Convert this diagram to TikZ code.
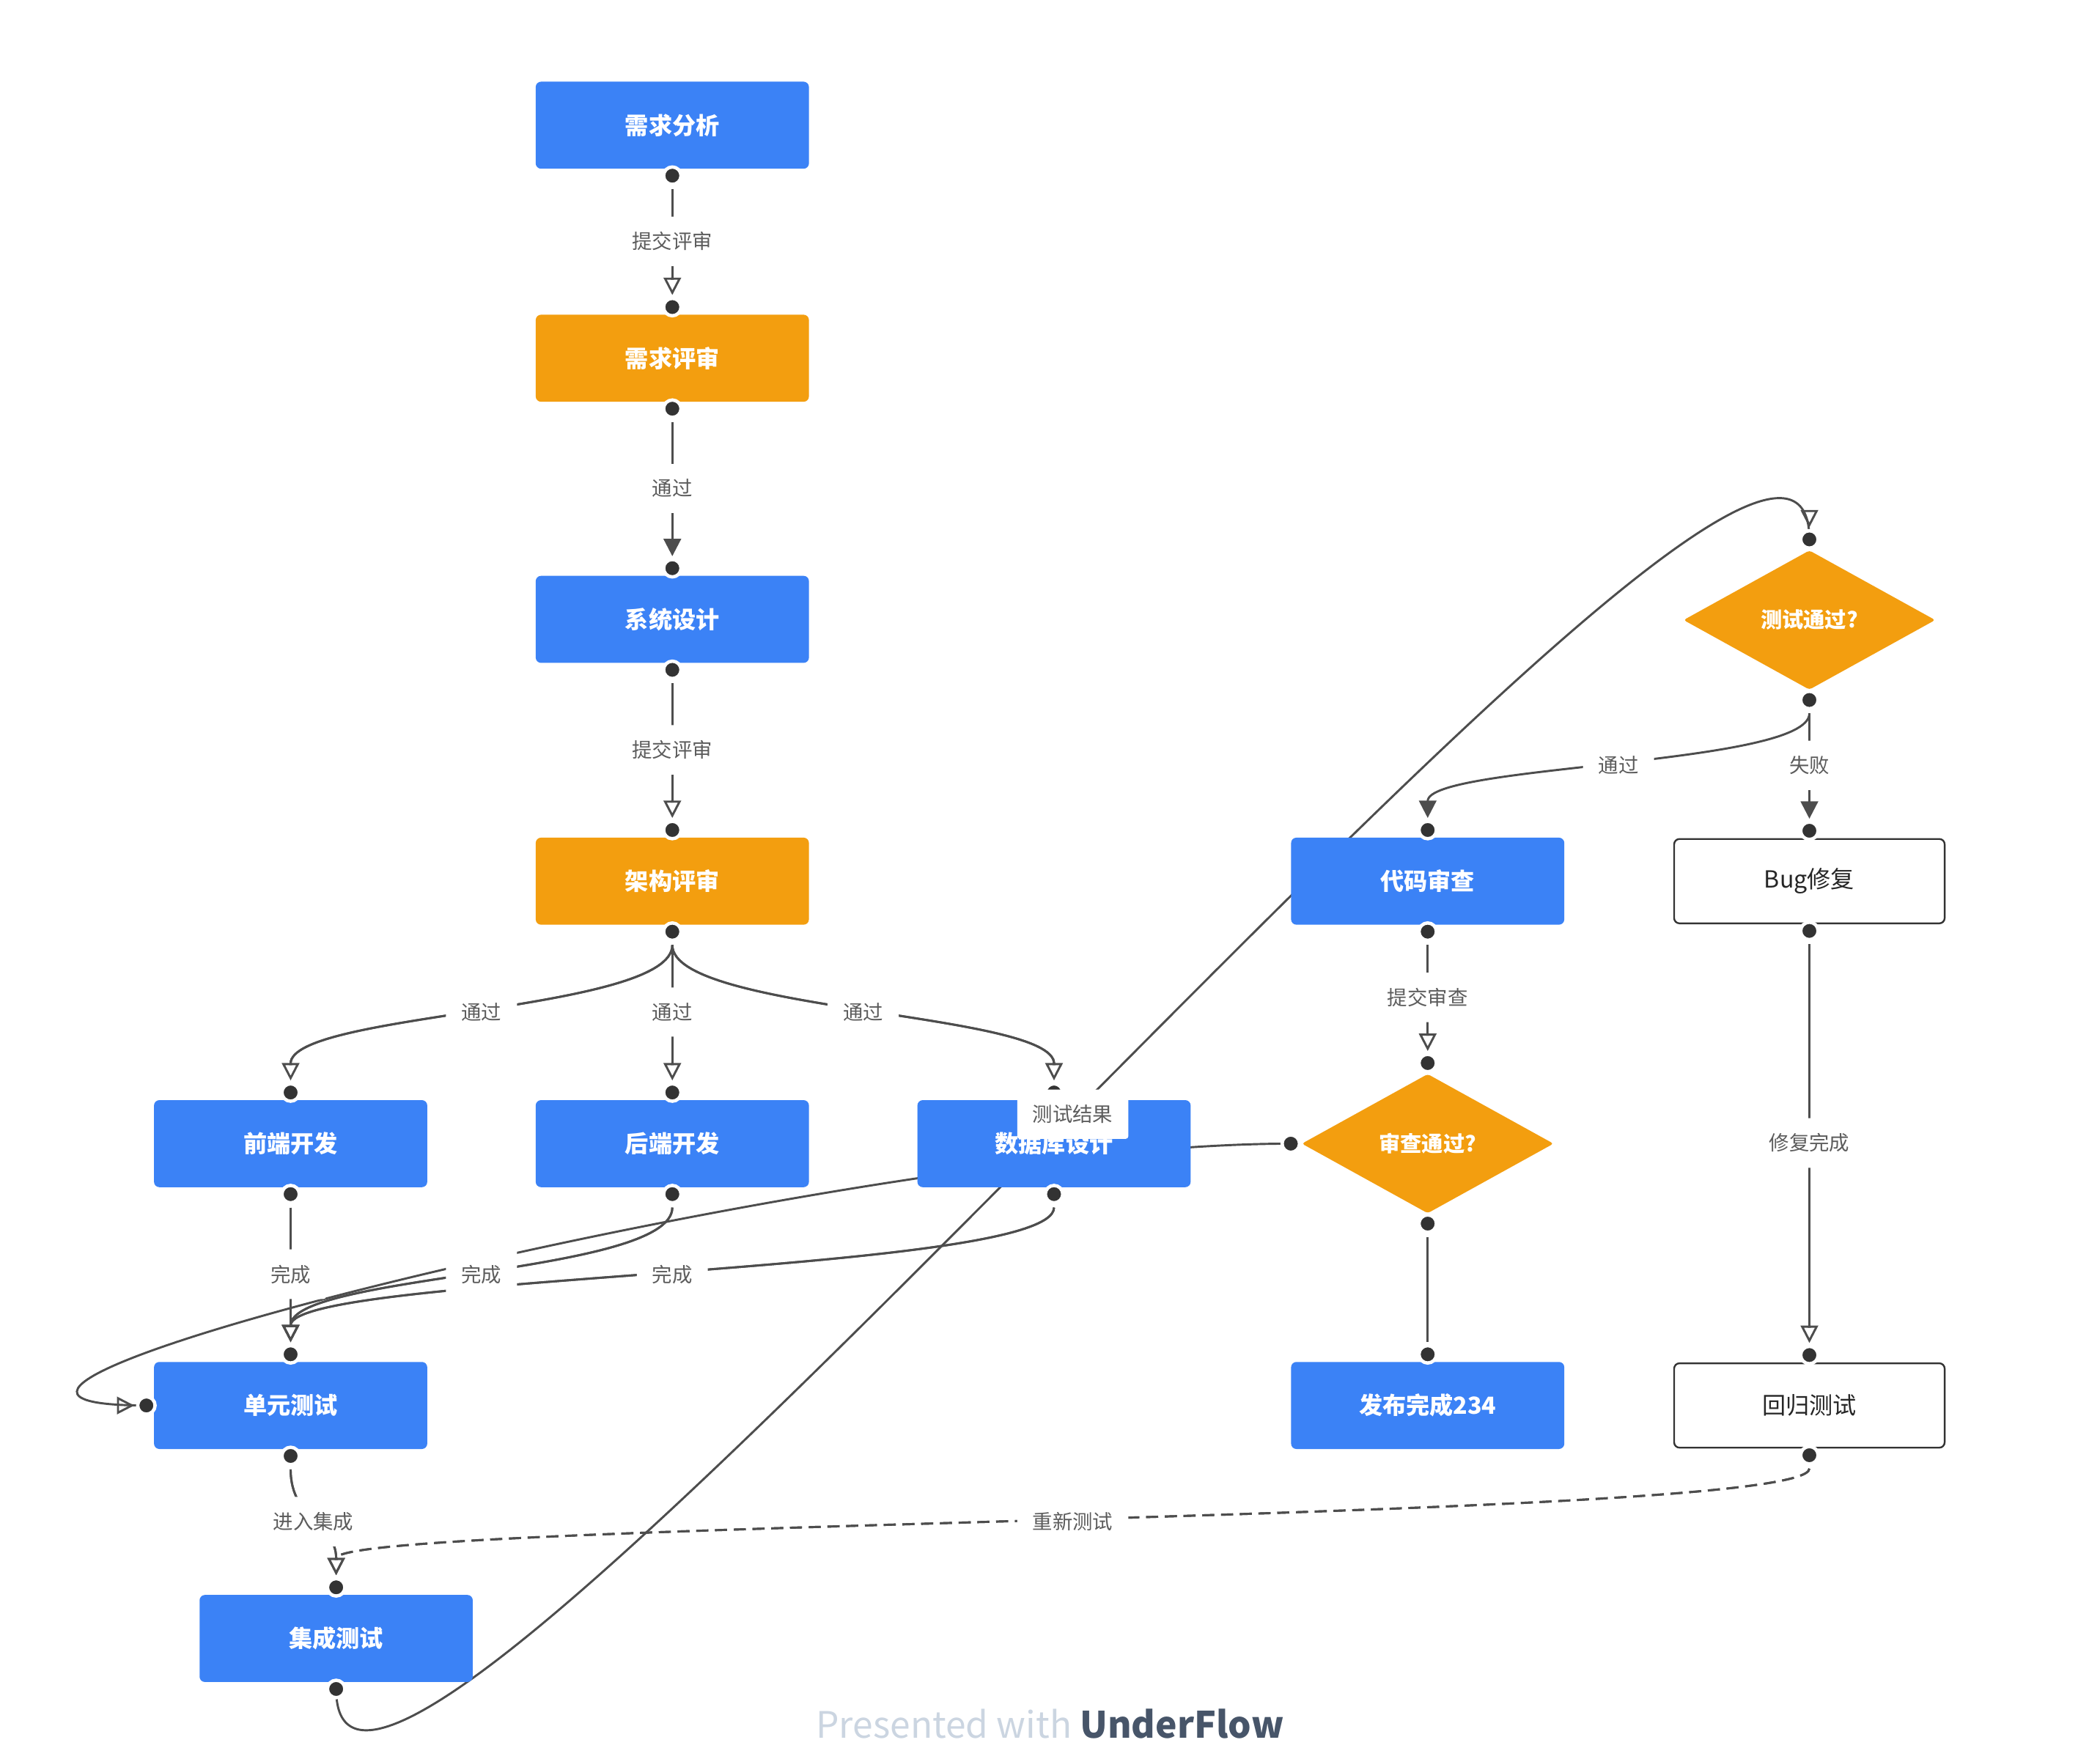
\documentclass[tikz,border=0pt]{standalone}
\usepackage{fontspec}
\setmainfont{Noto Sans CJK SC}
\usetikzlibrary{shapes.geometric,arrows.meta}
\definecolor{cblue}{HTML}{3B82F6}
\definecolor{corange}{HTML}{F39E0F}
\definecolor{cline}{HTML}{4D4D4D}
\definecolor{clabel}{HTML}{5C5C5C}
\definecolor{cdot}{HTML}{333333}
\definecolor{cfootl}{HTML}{CBD5E1}
\definecolor{cfootd}{HTML}{475569}
\pgfdeclarelayer{background}
\pgfdeclarelayer{foreground}
\pgfsetlayers{background,main,foreground}
\begin{document}
\begin{tikzpicture}[x=1pt,y=-1pt,
  box/.style={rectangle, rounded corners=4pt, minimum width=204pt, minimum height=65pt, inner sep=0pt, font=\fontsize{17.6}{20}\selectfont\bfseries, text=white},
  bluebox/.style={box, fill=cblue},
  orangebox/.style={box, fill=corange},
  whitebox/.style={box, minimum width=202pt, minimum height=63pt, fill=white, draw=cdot, line width=1.3pt, text=black!85, font=\fontsize{17.6}{20}\selectfont},
  decision/.style={diamond, fill=corange, minimum width=188pt, minimum height=104pt, inner sep=0pt, rounded corners=2pt, font=\fontsize{16}{19}\selectfont\bfseries, text=white},
  portdot/.style={circle, fill=cdot, draw=white, line width=2.5pt, minimum size=13pt, inner sep=0pt},
  conn/.style={draw=cline, line width=1.6pt, shorten <=10pt, shorten >=9pt},
  oarr/.style={conn, -{Triangle[open, length=13pt, width=13pt, line width=1.6pt]},
    postaction={draw=cline, -{Triangle[length=13pt, width=1.6pt]}}},
  farr/.style={conn, -{Triangle[length=13pt, width=13pt]}},
  longconn/.style={draw=cline, line width=1.6pt},
  tiponly/.style={draw=cline, line width=1.6pt, -{Triangle[open, length=13pt, width=13pt, line width=1.6pt]}},
  lbl/.style={fill=white, inner sep=11.5pt, font=\fontsize{15}{16}\selectfont, text=clabel, rounded corners=2pt},
]
\useasboundingbox (0,0) rectangle (1568,1313.5);
% nodes
\node[bluebox] (n1) at (502,93.5) {需求分析};
\node[orangebox] (n2) at (502,267.5) {需求评审};
\node[bluebox] (n3) at (502,462.5) {系统设计};
\node[orangebox] (n4) at (502,658) {架构评审};
\node[bluebox] (n5) at (217,854) {前端开发};
\node[bluebox] (n6) at (502,854) {后端开发};
\node[bluebox] (n7) at (787,854) {数据库设计};
\node[bluebox] (n8) at (217,1049.5) {单元测试};
\node[bluebox] (n9) at (251,1223.5) {集成测试};
\node[bluebox] (n10) at (1066,658) {代码审查};
\node[decision] (n11) at (1066,854) {审查通过?};
\node[bluebox] (n12) at (1066,1049.5) {发布完成234};
\node[decision] (n13) at (1351,463) {测试通过?};
\node[whitebox] (n14) at (1351,658) {Bug修复};
\node[whitebox] (n15) at (1351,1049.5) {回归测试};
% ports
\foreach \n in {n1,n2,n3,n4,n5,n6,n7,n8,n9,n10,n12,n14,n15}{
  \coordinate (\n s) at ([yshift=-5pt]\n.south);
  \coordinate (\n n) at ([yshift=5.5pt]\n.north);
}
\foreach \n in {n11,n13}{
  \coordinate (\n s) at ([yshift=-7.5pt]\n.south);
  \coordinate (\n n) at ([yshift=8pt]\n.north);
}
\coordinate (n8w) at ([xshift=-5.5pt]n8.west);
\coordinate (n11w) at ([xshift=-8pt]n11.west);
% connectors
\begin{pgfonlayer}{background}
\fill[white] (0,0) rectangle (1568,1313.5);
\draw[oarr] (n1s) -- coordinate[pos=0.5] (la) (n2n);
\draw[farr] (n2s) -- coordinate[pos=0.5] (lb) (n3n);
\draw[oarr] (n3s) -- coordinate[pos=0.5] (lc) (n4n);
\draw[oarr] (n4s) .. controls +(0,60) and +(0,-60) .. coordinate[pos=0.5] (ld) (n5n);
\draw[oarr] (n4s) -- coordinate[pos=0.5] (le) (n6n);
\draw[oarr] (n4s) .. controls +(0,60) and +(0,-60) .. coordinate[pos=0.5] (lf) (n7n);
\draw[oarr] (n5s) -- coordinate[pos=0.5] (lg) (n8n);
\draw[oarr] (n6s) .. controls +(0,60) and +(0,-60) .. coordinate[pos=0.5] (lh) (n8n);
\draw[oarr] (n7s) .. controls +(0,60) and +(0,-60) .. coordinate[pos=0.5] (li) (n8n);
% 审查通过? -> 单元测试 (long loop)
\draw[longconn] (n11w) .. controls +(-330,0) and +(-260,0) .. (n8w);
\draw[tiponly] ([xshift=-22pt]n8w) -- ([xshift=-9pt]n8w);
% 集成测试 -> 测试通过?
\draw[longconn] (n9s) .. controls +(0,250) and +(0,-250) .. coordinate[pos=0.5] (lk) (n13n);
\draw[tiponly] ([yshift=22pt]n13n) -- ([yshift=9pt]n13n);
\draw[oarr] (n10s) -- coordinate[pos=0.5] (ll) (n11n);
\draw[conn] (n11s) -- (n12n);
\draw[farr] (n13s) .. controls +(0,49) and +(0,-49) .. coordinate[pos=0.5] (ln) (n10n);
\draw[farr] (n13s) -- coordinate[pos=0.5] (lo) (n14n);
\draw[oarr] (n14s) -- coordinate[pos=0.5] (lp) (n15n);
\draw[oarr, dash pattern=on 9pt off 5pt] (n15s) .. controls +(0,50) and +(0,-50) .. coordinate[pos=0.5] (lq) (n9n);
\draw[oarr] (n8s) .. controls +(0,48) and +(0,-48) .. coordinate[pos=0.5] (lr) (n9n);
\end{pgfonlayer}
% dots
\foreach \p in {n1s,n2n,n2s,n3n,n3s,n4n,n4s,n5n,n5s,n6n,n6s,n7n,n7s,n8n,n8s,n8w,n9n,n9s,n10n,n10s,n11n,n11s,n11w,n12n,n13n,n13s,n14n,n14s,n15n,n15s}{
  \node[portdot] at (\p) {};
}
% labels
\begin{pgfonlayer}{foreground}
\node[lbl] (t1) at (la) {提交评审};
\node[lbl] (t2) at (lb) {通过};
\node[lbl] (t3) at (lc) {提交评审};
\node[lbl] (t4) at (ld) {通过};
\node[lbl] (t5) at (le) {通过};
\node[lbl] (t6) at (lf) {通过};
\node[lbl] (t7) at (lg) {完成};
\node[lbl] (t8) at (lh) {完成};
\node[lbl] (t9) at (li) {完成};
\node[lbl] (t10) at (lk) {测试结果};
\node[lbl] (t11) at (ll) {提交审查};
\node[lbl] (t12) at (ln) {通过};
\node[lbl] (t13) at (lo) {失败};
\node[lbl] (t14) at (lp) {修复完成};
\node[lbl] (t15) at (lq) {重新测试};
\node[lbl] (t16) at (lr) {进入集成};
\node[font=\fontsize{27.2}{32}\selectfont] (foot) at (784,1287) {\textcolor{cfootl}{Presented with} \textcolor{cfootd}{\bfseries UnderFlow}};
\end{pgfonlayer}
\end{tikzpicture}
\end{document}
